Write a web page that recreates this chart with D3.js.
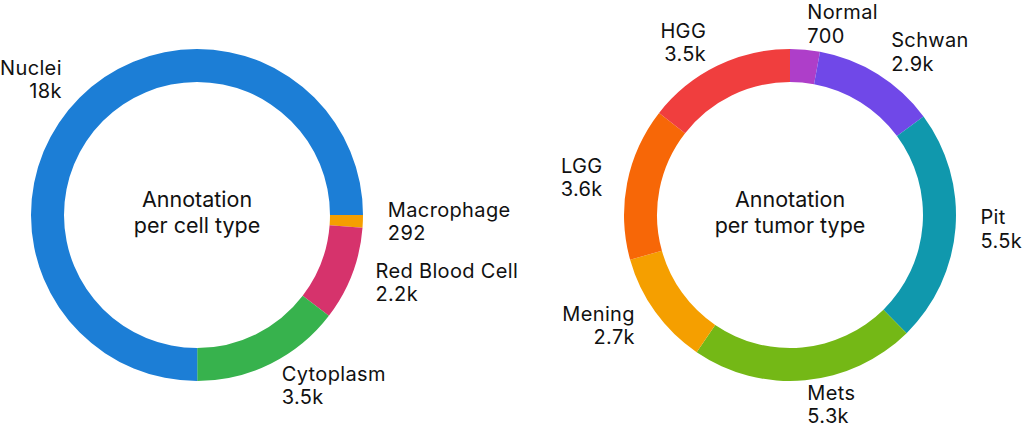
<!DOCTYPE html>
<html>
<head>
<meta charset="utf-8">
<script src="https://cdn.jsdelivr.net/npm/d3@7"></script>
<style>
  html, body { margin: 0; padding: 0; background: #fff; }
  svg text { font-family: Inter, "Liberation Sans", sans-serif; fill: #111; }
</style>
</head>
<body>
<svg id="chart" width="1024" height="435"></svg>
<script>
// ---- Data ----
const cellTitle = ["Annotation", "per cell type"];
const cellLabels = ["Macrophage", "Red Blood Cell", "Cytoplasm", "Nuclei"];
const cellValues = [292, 2200, 3500, 18000];
const cellValueLabels = ["292", "2.2k", "3.5k", "18k"];
const cellColors = ["#f59f00", "#d6336c", "#37b24d", "#1c7ed6"];

const tumorTitle = ["Annotation", "per tumor type"];
const tumorLabels = ["Normal", "Schwan", "Pit", "Mets", "Mening", "LGG", "HGG"];
const tumorValues = [700, 2900, 5500, 5300, 2700, 3600, 3500];
const tumorValueLabels = ["700", "2.9k", "5.5k", "5.3k", "2.7k", "3.6k", "3.5k"];
const tumorColors = ["#ae3ec9", "#7048e8", "#1098ad", "#74b816", "#f59f00", "#f76707", "#f03e3e"];

// ---- Layout ----
const svg = d3.select("#chart");
const outerR = 166, innerR = 133, labelR = 191;
const cy = 215;

function donut(cx, startAngle, labels, values, valueLabels, colors, title) {
  const g = svg.append("g").attr("transform", `translate(${cx},${cy})`);
  const pie = d3.pie().sort(null).value(d => d)
    .startAngle(startAngle).endAngle(startAngle + 2 * Math.PI);
  const arcs = pie(values);
  const arc = d3.arc().innerRadius(innerR).outerRadius(outerR);
  const labelArc = d3.arc().innerRadius(labelR).outerRadius(labelR);

  g.selectAll("path.slice").data(arcs).join("path")
    .attr("class", "slice")
    .attr("d", arc)
    .attr("fill", (d, i) => colors[i]);

  const lab = g.selectAll("text.lab").data(arcs).join("text")
    .attr("class", "lab")
    .attr("font-size", 20)
    .attr("letter-spacing", "0.35px")
    .attr("text-anchor", d => {
      const mid = (d.startAngle + d.endAngle) / 2;
      return Math.sin(mid) >= -1e-6 ? "start" : "end";
    })
    .attr("transform", d => {
      const [x, y] = labelArc.centroid(d);
      return `translate(${x},${y})`;
    });
  lab.append("tspan").attr("x", 0).attr("y", -5.5).text((d, i) => labels[i]);
  lab.append("tspan").attr("x", 0).attr("y", 17.8).text((d, i) => valueLabels[i]);

  const t = g.append("text").attr("text-anchor", "middle").attr("font-size", 21.5);
  t.append("tspan").attr("x", 0).attr("y", -8.3).text(title[0]);
  t.append("tspan").attr("x", 0).attr("y", 18).text(title[1]);
}

donut(197, Math.PI / 2, cellLabels, cellValues, cellValueLabels, cellColors, cellTitle);
donut(790, 0, tumorLabels, tumorValues, tumorValueLabels, tumorColors, tumorTitle);
</script>
</body>
</html>
